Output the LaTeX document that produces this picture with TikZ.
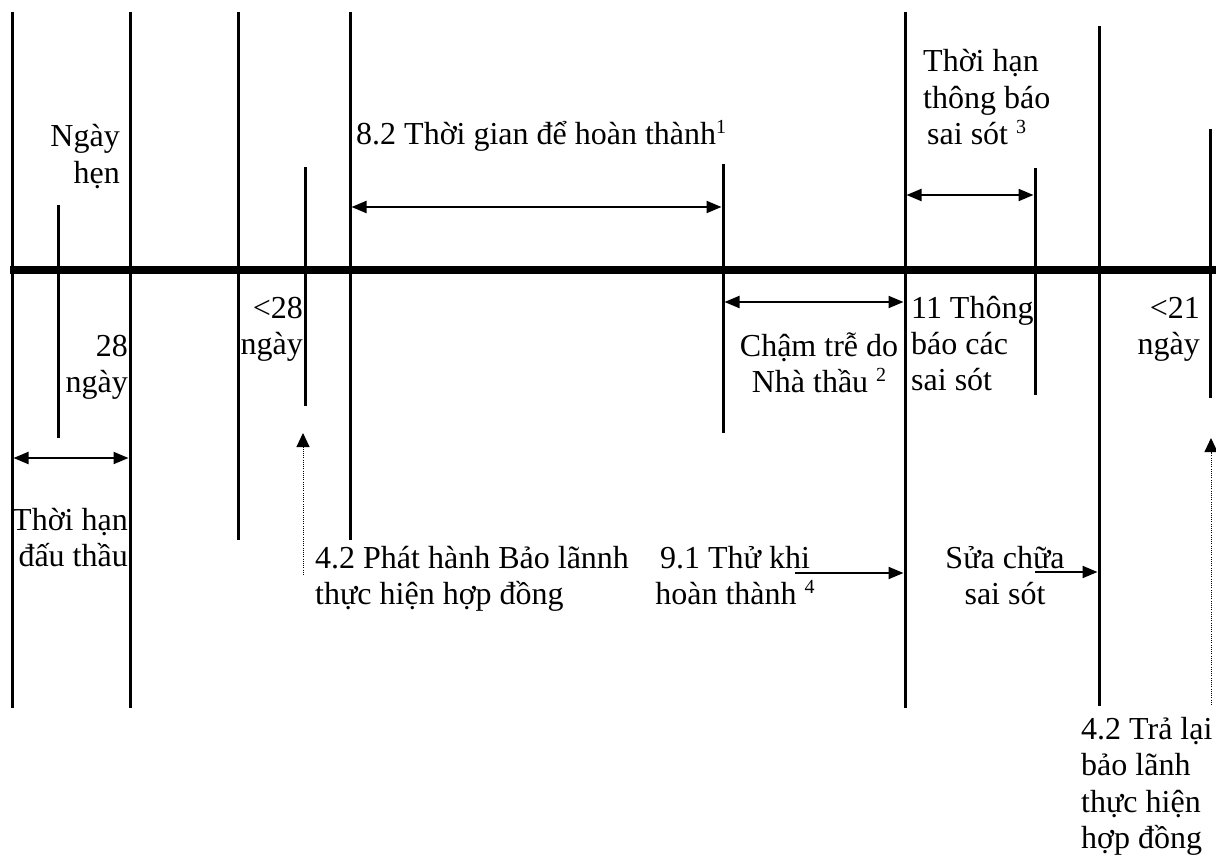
\documentclass[tikz,border=0pt]{standalone}
\usepackage{fontspec}
\setmainfont{Liberation Serif}
\usetikzlibrary{arrows.meta}

% a column of lines whose baseline is that of its first line
\newcommand\txtcol[2]{\begin{tabular}[t]{@{}#1@{}}#2\end{tabular}}
% footnote mark
\newcommand\fnmark[1]{\raisebox{11pt}{\fontsize{20}{20}\selectfont #1}}

\tikzset{
  mark line/.style={line width=3pt},
  axis line/.style={line width=8pt},
  span/.style={line width=2pt, {Triangle[length=15pt,width=12pt]}-{Triangle[length=15pt,width=12pt]}},
  goto/.style={line width=2pt, -{Triangle[length=15pt,width=12pt]}},
  pointer/.style={line width=1pt, dash pattern=on 1pt off 1.2pt, -{Triangle[length=14pt,width=13pt]}},
  lbl/.style={inner sep=0pt, font=\fontsize{32}{36.5}\selectfont},
}

\begin{document}
\begin{tikzpicture}[x=1pt, y=-1pt]
\useasboundingbox (0,0) rectangle (1216,861);

% time axis
\coordinate (axisL) at (10,270);
\coordinate (axisR) at (1216,270);
\draw[axis line] (axisL) -- (axisR);

% event markers: name / x / top / bottom
\foreach \n/\x/\t/\b in {
    tender/12/12/708, base/130/12/708, marker/58/205/438,
    award/238/12/540, start/350/12/540, bond/305/167/406,
    due/723/164/433, taking/905/12/708, notice/1035/168/395,
    cert/1099/26/706, ret/1210/129/398}{
  \coordinate (\n-t) at (\x,\t);
  \coordinate (\n-b) at (\x,\b);
  \draw[mark line] (\n-t) -- (\n-b);
}

% span arrows
\coordinate (s1a) at (12,458);   \coordinate (s1b) at (130,458);
\coordinate (s2a) at (350,207);  \coordinate (s2b) at (723,207);
\coordinate (s3a) at (723,302);  \coordinate (s3b) at (905,302);
\coordinate (s4a) at (905,195);  \coordinate (s4b) at (1035,195);
\draw[span, shorten <=1.5pt, shorten >=1.5pt] (s1a) -- (s1b);
\draw[span, shorten <=1.5pt, shorten >=1.5pt] (s2a) -- (s2b);
\draw[span, shorten <=1.5pt, shorten >=1.5pt] (s3a) -- (s3b);
\draw[span, shorten <=1.5pt, shorten >=1.5pt] (s4a) -- (s4b);

% one-way arrows into the markers
\coordinate (g1a) at (795,573);  \coordinate (g1b) at (905,573);
\coordinate (g2a) at (1035,572); \coordinate (g2b) at (1099,572);
\draw[goto, shorten >=1.5pt] (g1a) -- (g1b);
\draw[goto, shorten >=1.5pt] (g2a) -- (g2b);

% dotted pointers
\coordinate (p1a) at (303,575);  \coordinate (p1b) at (303,433);
\coordinate (p2a) at (1211,705); \coordinate (p2b) at (1211,438);
\draw[pointer] (p1a) -- (p1b);
\draw[pointer] (p2a) -- (p2b);

% labels
\node[lbl, anchor=base east] (tNgay) at (120,147) {\txtcol{r}{Ngày\\hẹn}};
\node[lbl, anchor=base west] (tTime) at (356,145) {8.2 Thời gian để hoàn thành\fnmark{1}};
\node[lbl, anchor=base west] (tDefP) at (923,72) {\txtcol{l}{Thời hạn\\thông báo\\\hspace{4pt}sai sót \fnmark{3}}};
\node[lbl, anchor=base east] (t28) at (128,356) {\txtcol{r}{28\hspace{5pt}\\ngày}};
\node[lbl, anchor=base east] (tLt28) at (303,318) {\txtcol{r}{<28\\ngày}};
\node[lbl, anchor=base east] (tTender) at (128,530) {\txtcol{r}{Thời hạn\\đấu thầu}};
\node[lbl, anchor=base west] (tBond) at (315,568) {\txtcol{l}{4.2 Phát hành Bảo lãnnh\\thực hiện hợp đồng}};
\node[lbl, anchor=base] (tDelay) at (819,356) {\txtcol{c}{Chậm trễ do\\Nhà thầu \fnmark{2}}};
\node[lbl, anchor=base west] (tNotice) at (911,318) {\txtcol{l}{11 Thông\\báo các\\sai sót}};
\node[lbl, anchor=base east] (tLt21) at (1200,318) {\txtcol{r}{<21\\ngày}};
\node[lbl, anchor=base] (tTest) at (735,568) {\txtcol{c}{9.1 Thử khi\\hoàn thành \fnmark{4}}};
\node[lbl, anchor=base] (tRepair) at (1005,568) {\txtcol{c}{Sửa chữa\\sai sót}};
\node[lbl, anchor=base west] (tReturn) at (1081,739) {\txtcol{l}{4.2 Trả lại\\bảo lãnh\\thực hiện\\hợp đồng}};
\end{tikzpicture}
\end{document}
